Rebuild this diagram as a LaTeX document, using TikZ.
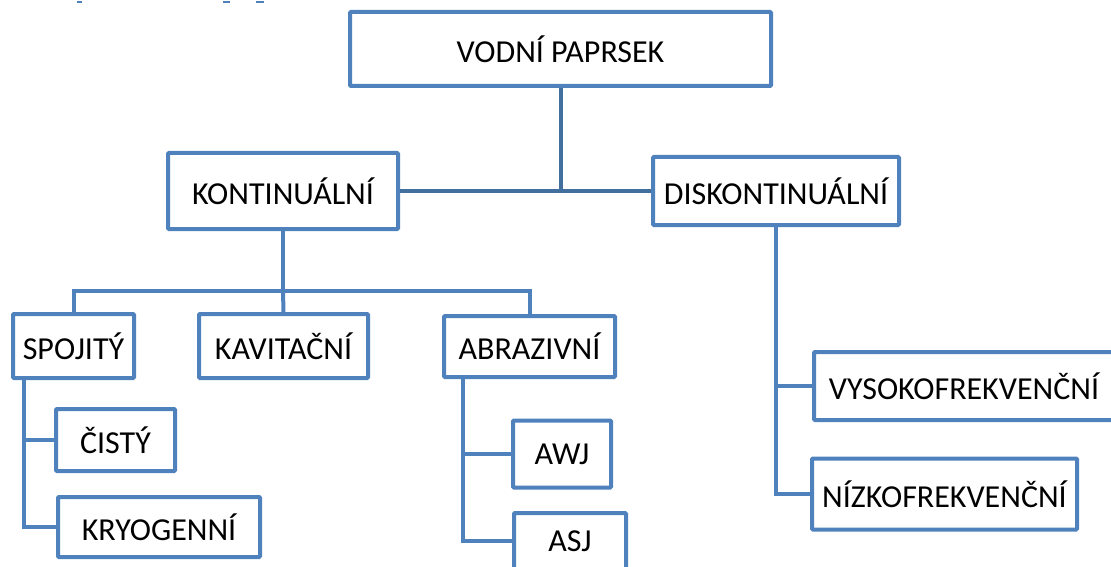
\documentclass[tikz,border=0pt]{standalone}
\usepackage{fontspec}
\setmainfont{Carlito}
\definecolor{boxblue}{HTML}{4F81BD}
\definecolor{topblue}{HTML}{41709F}
\begin{document}
\begin{tikzpicture}[x=1pt,y=-1pt,
  box/.style={draw=boxblue, line width=4pt, fill=white, rectangle, inner sep=0pt,
    rounded corners=1pt, font=\fontsize{32}{37}\selectfont},
  conn/.style={draw=boxblue, line width=4pt},
  topconn/.style={draw=topblue, line width=4pt},
  tinymark/.style={draw=boxblue, line width=1.5pt}]
\useasboundingbox (0,0) rectangle (1111,567);

% tiny marks at top edge
\coordinate (m1a) at (77,2); \coordinate (m1b) at (82,2);
\coordinate (m2a) at (223,2); \coordinate (m2b) at (230,2);
\coordinate (m3a) at (256,2); \coordinate (m3b) at (264,2);
\draw[tinymark] (m1a) -- (m1b);
\draw[tinymark] (m2a) -- (m2b);
\draw[tinymark] (m3a) -- (m3b);

% nodes
\node[box, minimum width=421pt, minimum height=74pt] (vodni) at (560.5,49) {VODNÍ PAPRSEK};
\node[box, minimum width=230pt, minimum height=76pt] (kont) at (283,191) {KONTINUÁLNÍ};
\node[box, minimum width=246pt, minimum height=68pt] (disk) at (776,191) {DISKONTINUÁLNÍ};
\node[box, minimum width=121pt, minimum height=64pt] (spoj) at (73.5,346) {SPOJITÝ};
\node[box, minimum width=169pt, minimum height=64pt] (kavi) at (283.5,346) {KAVITAČNÍ};
\node[box, minimum width=171pt, minimum height=61pt] (abra) at (529.5,346.5) {ABRAZIVNÍ};
\node[box, minimum width=119pt, minimum height=62pt] (cist) at (115.5,440) {ČISTÝ};
\node[box, minimum width=202pt, minimum height=60pt] (kryo) at (159,527) {KRYOGENNÍ};
\node[box, minimum width=98pt, minimum height=67pt] (awj) at (562,454) {AWJ};
\node[box, minimum width=112pt, minimum height=56pt] (asj) at (570,541) {ASJ};
\node[box, minimum width=300pt, minimum height=68pt] (vyso) at (964,386) {VYSOKOFREKVENČNÍ};
\node[box, minimum width=265pt, minimum height=71pt] (nizk) at (944.5,494) {NÍZKOFREKVENČNÍ};

% level 1
\draw[topconn] (kont.east) -- (disk.west);
\draw[topconn] (vodni.south) -- (vodni.south |- kont.east);

% level 2 (kontinualni)
\coordinate (kbar) at (283,291);
\draw[conn] (kont.south) -- (kbar);
\draw[conn] (spoj.north) |- (kbar) -| (abra.north);
\draw[conn] (kbar) -- (kavi.north);

% spojity children
\coordinate (sx) at (24,0);
\draw[conn] (sx |- spoj.south) |- (kryo.west);
\draw[conn] (sx |- cist.west) -- (cist.west);

% abrazivni children
\coordinate (ax) at (463,0);
\draw[conn] (ax |- abra.south) |- (asj.west);
\draw[conn] (ax |- awj.west) -- (awj.west);

% diskontinualni children
\draw[conn] (disk.south) |- (nizk.west);
\draw[conn] (disk.south |- vyso.west) -- (vyso.west);
\end{tikzpicture}
\end{document}
